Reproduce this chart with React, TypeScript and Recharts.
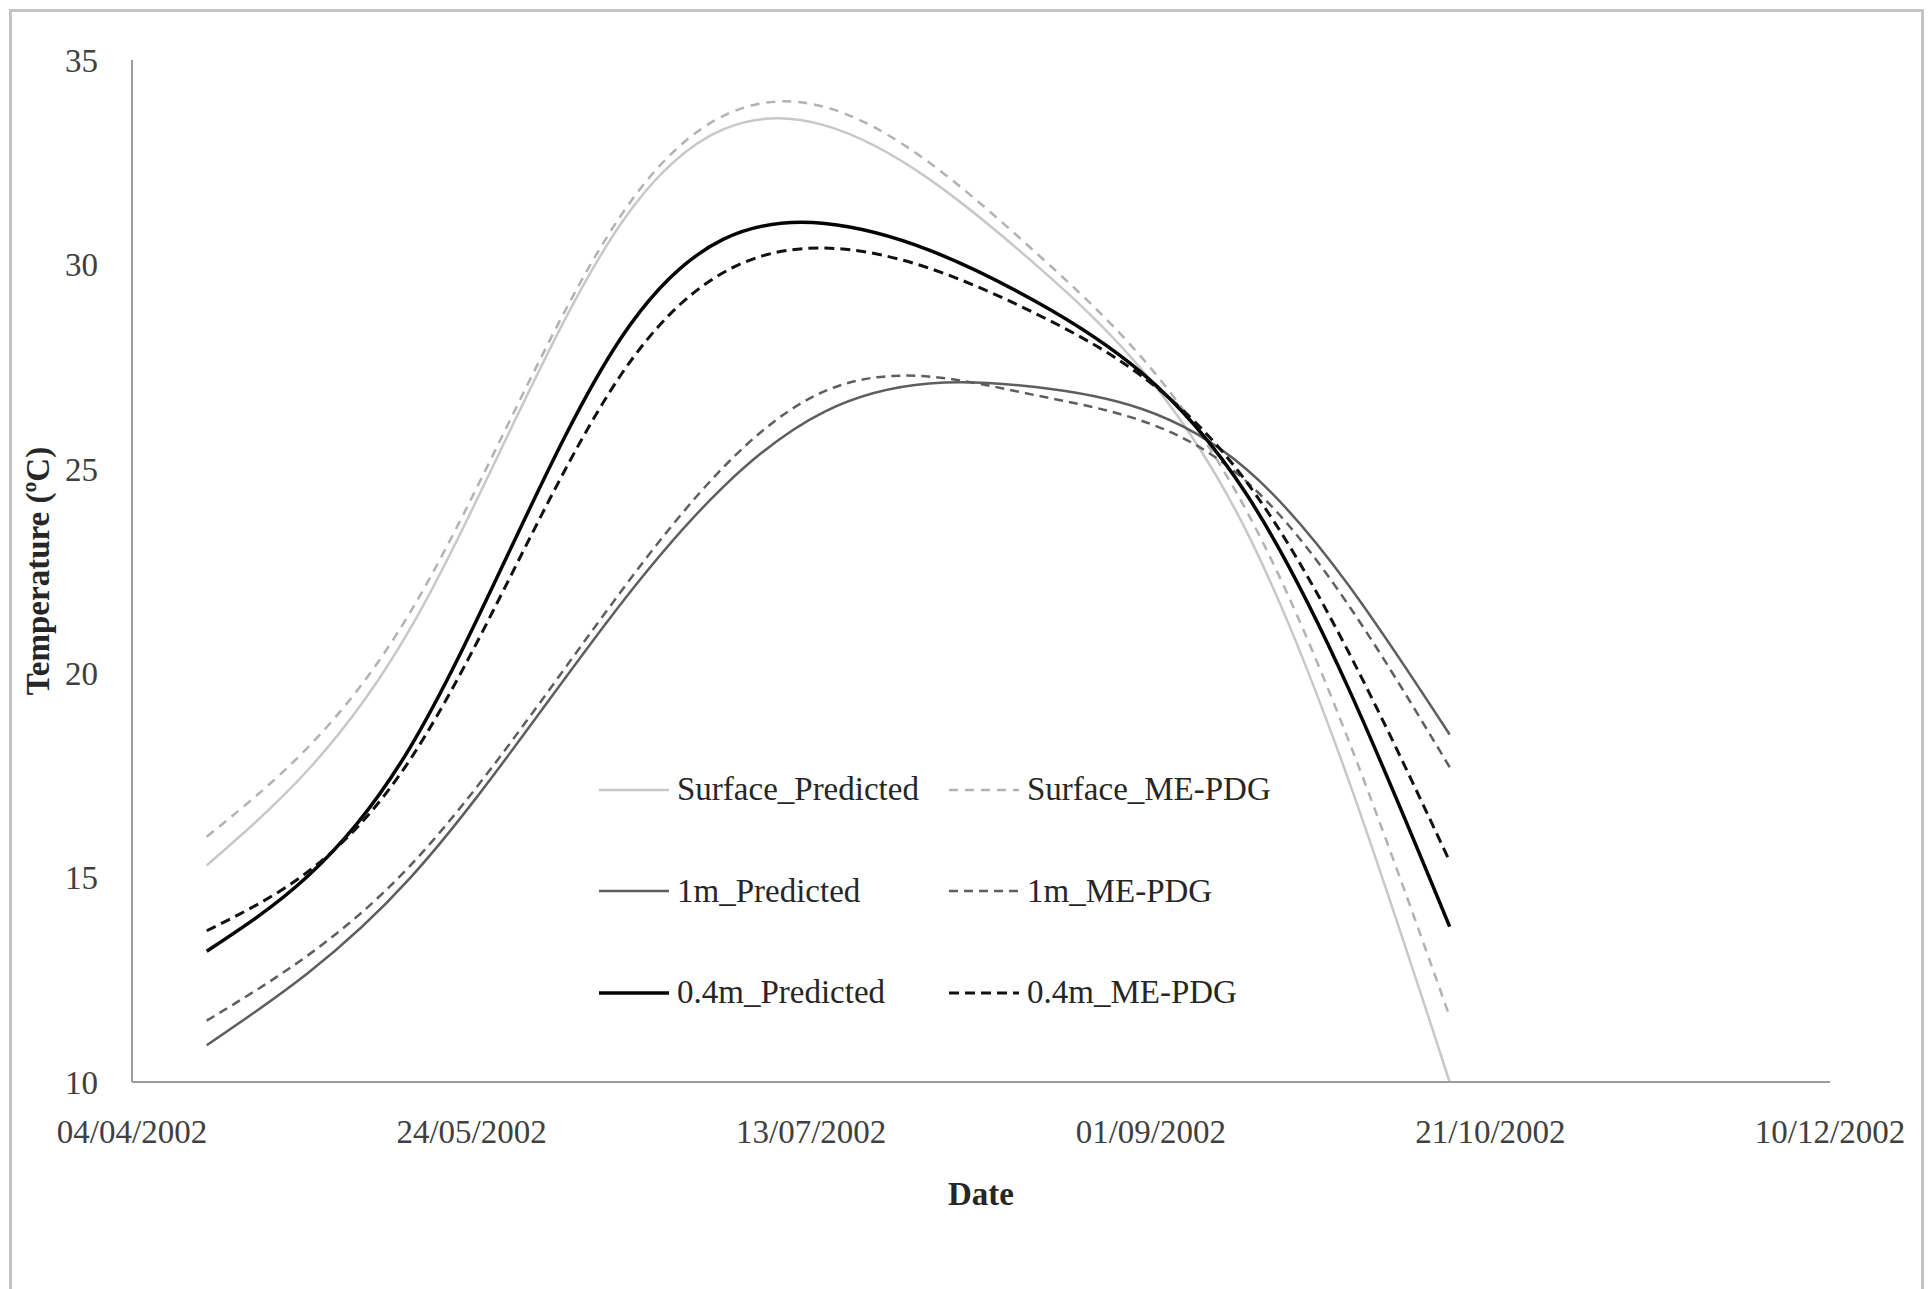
import React from "react"
import { LineChart, Line, XAxis, YAxis, Legend } from "recharts"

// monthly readings, values in degC
const pointDates = ["15/04/2002", "15/05/2002", "15/06/2002", "15/07/2002", "15/08/2002", "15/09/2002", "15/10/2002"]
const surfacePredicted = [15.3, 21.1, 31.0, 33.4, 30.0, 23.5, 10.0]
const surfaceMEPDG = [16.0, 21.5, 31.2, 33.85, 30.3, 24.0, 11.6]
const oneMPredicted = [10.9, 15.0, 21.7, 26.4, 27.0, 25.0, 18.5]
const oneMMEPDG = [11.5, 15.3, 22.0, 26.9, 26.8, 24.7, 17.7]
const pt4Predicted = [13.2, 18.2, 28.2, 31.0, 29.1, 24.4, 13.8]
const pt4MEPDG = [13.7, 17.9, 27.3, 30.4, 28.8, 24.7, 15.4]

const xTickLabels = ["04/04/2002", "24/05/2002", "13/07/2002", "01/09/2002", "21/10/2002", "10/12/2002"]
const yTicks = [10, 15, 20, 25, 30, 35]

const START = Date.UTC(2002, 3, 4)
const toDay = (s: string) => {
  const [d, m, y] = s.split("/").map(Number)
  return Math.round((Date.UTC(y, m - 1, d) - START) / 86400000)
}
const xTicks = xTickLabels.map(toDay)

const data = pointDates.map((d, i) => ({
  day: toDay(d),
  surfacePredicted: surfacePredicted[i],
  surfaceMEPDG: surfaceMEPDG[i],
  oneMPredicted: oneMPredicted[i],
  oneMMEPDG: oneMMEPDG[i],
  pt4Predicted: pt4Predicted[i],
  pt4MEPDG: pt4MEPDG[i],
}))

const series = [
  { key: "surfacePredicted", name: "Surface_Predicted", color: "#c8c8c8", width: 2.5, dash: undefined },
  { key: "surfaceMEPDG", name: "Surface_ME-PDG", color: "#b2b2b2", width: 2.5, dash: "9 7" },
  { key: "oneMPredicted", name: "1m_Predicted", color: "#5e5e5e", width: 2.5, dash: undefined },
  { key: "oneMMEPDG", name: "1m_ME-PDG", color: "#5e5e5e", width: 2.5, dash: "9 6" },
  { key: "pt4Predicted", name: "0.4m_Predicted", color: "#050505", width: 3.5, dash: undefined },
  { key: "pt4MEPDG", name: "0.4m_ME-PDG", color: "#111111", width: 3, dash: "10 6" },
]

const FONT = '"Liberation Serif", "Times New Roman", serif'

// two-column legend, filled row by row in series order
function LegendGrid() {
  return (
    <div
      style={{
        display: "grid",
        gridTemplateColumns: "350px 350px",
        gridAutoRows: "101.6px",
        fontFamily: FONT,
        fontSize: 33,
        color: "#262626",
      }}
    >
      {series.map(s => (
        <div key={s.key} style={{ display: "flex", alignItems: "center" }}>
          <svg width={70} height={12} style={{ flexShrink: 0 }}>
            <line x1={0} x2={70} y1={6} y2={6} stroke={s.color} strokeWidth={s.width} strokeDasharray={s.dash} />
          </svg>
          <span style={{ marginLeft: 8, whiteSpace: "nowrap" }}>{s.name}</span>
        </div>
      ))}
    </div>
  )
}

export default function App() {
  return (
    <div style={{ position: "relative", width: 1929, height: 1289, overflow: "hidden", background: "#fff" }}>
      <style>{"body{margin:0}"}</style>
      <div
        style={{
          position: "absolute",
          left: 9,
          top: 9,
          width: 1915,
          height: 1320,
          border: "3px solid #c4c4c4",
          boxSizing: "border-box",
        }}
      />
      <div style={{ position: "absolute", left: 0, top: 0 }}>
        <LineChart width={1929} height={1289} data={data} margin={{ top: 60, right: 99, bottom: 107, left: 0 }}>
          <XAxis
            type="number"
            dataKey="day"
            domain={[0, 250]}
            ticks={xTicks}
            tickFormatter={(v: number) => xTickLabels[xTicks.indexOf(v)] ?? ""}
            height={100}
            tickLine={false}
            tickSize={0}
            tickMargin={38}
            axisLine={{ stroke: "#9c9c9c", strokeWidth: 2 }}
            tick={{ fill: "#404040", fontSize: 33, fontFamily: FONT }}
            interval={0}
            label={{ value: "Date", position: "center", dy: 61, fill: "#262626", fontSize: 33, fontWeight: "bold", fontFamily: FONT }}
          />
          <YAxis
            type="number"
            domain={[10, 35]}
            ticks={yTicks}
            width={132}
            tickLine={false}
            tickSize={0}
            tickMargin={34}
            axisLine={{ stroke: "#9c9c9c", strokeWidth: 2 }}
            tick={{ fill: "#404040", fontSize: 33, fontFamily: FONT }}
            interval={0}
            label={{ value: "Temperature (ºC)", angle: -90, position: "center", dx: -29, fill: "#262626", fontSize: 33, fontWeight: "bold", fontFamily: FONT }}
          />
          <Legend
            layout="horizontal"
            verticalAlign="middle"
            align="center"
            width={720}
            wrapperStyle={{ left: 599, top: 739, width: 720 }}
            content={<LegendGrid />}
          />
          {series.map(s => (
            <Line
              key={s.key}
              type="natural"
              dataKey={s.key}
              name={s.name}
              stroke={s.color}
              strokeWidth={s.width}
              strokeDasharray={s.dash}
              dot={false}
              activeDot={false}
              isAnimationActive={false}
            />
          ))}
        </LineChart>
      </div>
    </div>
  )
}
